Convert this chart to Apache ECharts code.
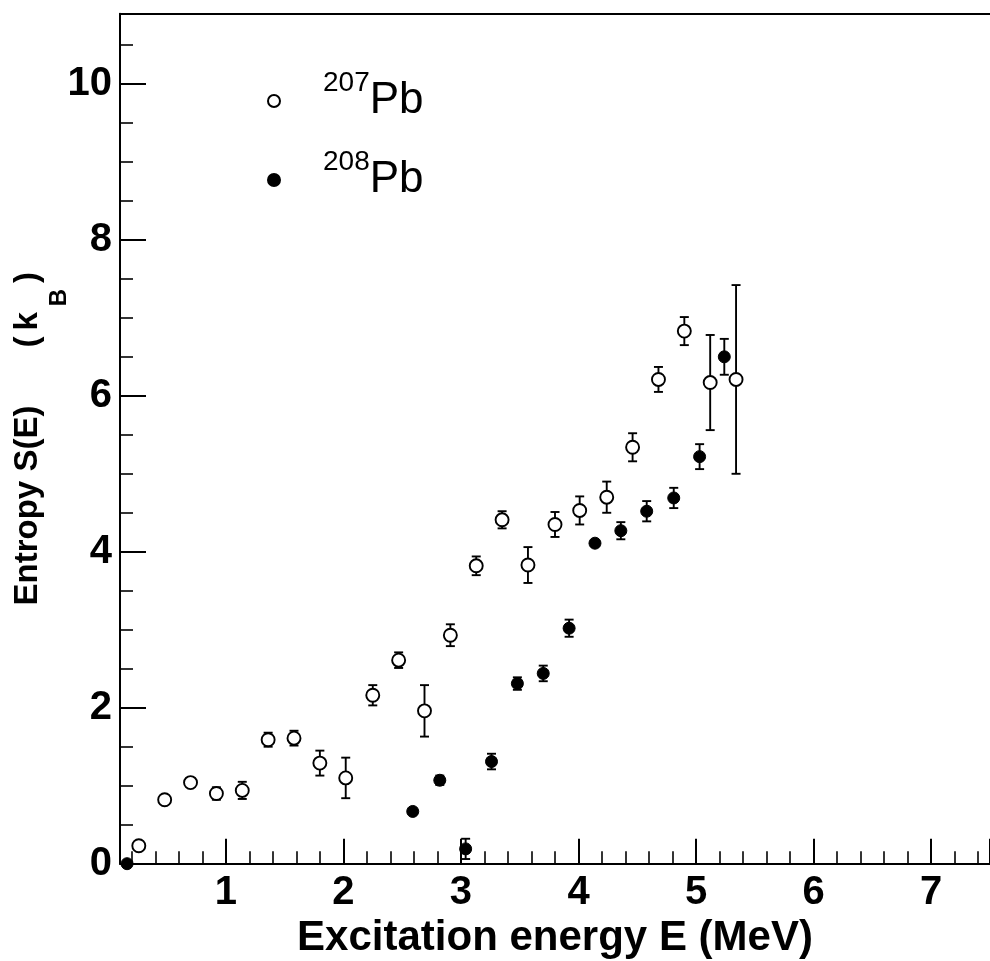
<!DOCTYPE html>
<html>
<head>
<meta charset="utf-8">
<script src="https://cdn.jsdelivr.net/npm/echarts@6/dist/echarts.min.js"></script>
<style>
html,body{margin:0;padding:0;background:#fff;}
#c{width:990px;height:961px;}
</style>
</head>
<body>
<div id="c"></div>
<script>
// ---- data ----
const E207 = [0.26, 0.48, 0.70, 0.92, 1.14, 1.36, 1.58, 1.80, 2.02, 2.25, 2.47, 2.69, 2.91, 3.13, 3.35, 3.57, 3.80, 4.01, 4.24, 4.46, 4.68, 4.90, 5.12, 5.34];
const S207 = [0.23, 0.82, 1.04, 0.90, 0.94, 1.59, 1.61, 1.29, 1.10, 2.16, 2.61, 1.96, 2.93, 3.82, 4.41, 3.83, 4.35, 4.53, 4.70, 5.34, 6.21, 6.83, 6.17, 6.21];
const dS207 = [0.03, 0.04, 0.05, 0.08, 0.11, 0.09, 0.095, 0.16, 0.26, 0.13, 0.10, 0.33, 0.14, 0.12, 0.11, 0.23, 0.16, 0.18, 0.20, 0.18, 0.16, 0.18, 0.61, 1.21];

const E208 = [0.16, 2.59, 2.82, 3.04, 3.26, 3.48, 3.70, 3.92, 4.14, 4.36, 4.58, 4.81, 5.03, 5.24];
const S208 = [0.00, 0.67, 1.07, 0.19, 1.31, 2.31, 2.44, 3.02, 4.11, 4.27, 4.52, 4.69, 5.22, 6.50];
const dS208 = [0.02, 0.03, 0.06, 0.13, 0.10, 0.08, 0.10, 0.11, 0.03, 0.11, 0.13, 0.13, 0.16, 0.23];

const seriesNames = ['207Pb', '208Pb'];
const xTickLabels = ['1', '2', '3', '4', '5', '6', '7'];
const yTickLabels = ['0', '2', '4', '6', '8', '10'];

// ---- chart ----
const FONT = 'Liberation Sans, Arial, Helvetica, sans-serif';
const d207 = E207.map((e, i) => [e, S207[i], dS207[i]]);
const d208 = E208.map((e, i) => [e, S208[i], dS208[i]]);

function errRender(params, api) {
  const x = api.value(0), y = api.value(1), e = api.value(2);
  const t = api.coord([x, y + e]);
  const b = api.coord([x, y - e]);
  const cap = 4.5;
  const st = { stroke: '#000', lineWidth: 1.9, fill: null };
  return {
    type: 'group',
    children: [
      { type: 'line', shape: { x1: t[0], y1: t[1], x2: b[0], y2: b[1] }, style: st },
      { type: 'line', shape: { x1: t[0] - cap, y1: t[1], x2: t[0] + cap, y2: t[1] }, style: st },
      { type: 'line', shape: { x1: b[0] - cap, y1: b[1], x2: b[0] + cap, y2: b[1] }, style: st }
    ]
  };
}

const chart = echarts.init(document.getElementById('c'), null, { renderer: 'canvas' });
chart.setOption({
  backgroundColor: '#fff',
  animation: false,
  textStyle: { fontFamily: FONT },
  grid: { left: 120, right: 0, top: 13.7, bottom: 97.3, containLabel: false, outerBoundsMode: 'none' },
  legend: {
    orient: 'vertical',
    left: 267,
    top: 69,
    padding: 0,
    itemGap: 25,
    itemWidth: 12,
    itemHeight: 12,
    selectedMode: false,
    data: seriesNames.map(n => ({ name: n, icon: 'circle' })),
    formatter: n => '{sup|' + n.slice(0, 3) + '}{main|' + n.slice(3) + '}',
    textStyle: {
      color: '#000',
      rich: {
        sup: { fontSize: 28, lineHeight: 28, verticalAlign: 'top', padding: [0, 0, 0, 38], fontFamily: FONT, color: '#000' },
        main: { fontSize: 44, lineHeight: 64, verticalAlign: 'middle', fontFamily: FONT, color: '#000' }
      }
    }
  },
  xAxis: [{
    type: 'value',
    min: 0.1,
    max: 7.5,
    splitNumber: 7,
    position: 'bottom',
    axisLine: { show: true, onZero: false, lineStyle: { color: '#000', width: 2 } },
    axisTick: { show: true, inside: true, length: 25, lineStyle: { color: '#000', width: 2 } },
    minorTick: { show: true, splitNumber: 5, length: 12.5, lineStyle: { color: '#000', width: 1.6 } },
    splitLine: { show: false },
    axisLabel: {
      show: true, margin: 9, color: '#000', fontSize: 40, fontWeight: 'bold', fontFamily: FONT,
      formatter: v => { const s = String(Math.round(v * 1000) / 1000); return xTickLabels.includes(s) ? s : ''; }
    },
    name: 'Excitation energy E (MeV)',
    nameLocation: 'middle',
    nameGap: 50,
    nameTextStyle: { color: '#000', fontSize: 42, fontWeight: 'bold', fontFamily: FONT }
  }, {
    type: 'value',
    min: 0.1,
    max: 7.5,
    position: 'top',
    axisLine: { show: true, onZero: false, lineStyle: { color: '#000', width: 2 } },
    axisTick: { show: false },
    axisLabel: { show: false },
    splitLine: { show: false }
  }],
  yAxis: {
    type: 'value',
    min: 0,
    max: 10.9,
    interval: 2,
    axisLine: { show: true, onZero: false, lineStyle: { color: '#000', width: 2 } },
    axisTick: { show: true, inside: true, length: 26, lineStyle: { color: '#000', width: 2 } },
    minorTick: { show: true, splitNumber: 4, length: 13, lineStyle: { color: '#000', width: 1.6 } },
    splitLine: { show: false },
    axisLabel: {
      show: true, margin: 8, color: '#000', fontSize: 40, fontWeight: 'bold', fontFamily: FONT,
      formatter: v => { const s = String(Math.round(v * 1000) / 1000); return yTickLabels.includes(s) ? s : ''; }
    },
    name: '{m|Entropy S(E)}{g| }{m|(}{k|k}{sub|B}{m|)}',
    nameLocation: 'middle',
    nameGap: 76,
    nameMoveOverlap: false,
    nameTextStyle: {
      color: '#000',
      rich: {
        m: { fontSize: 33, lineHeight: 33, fontWeight: 'bold', verticalAlign: 'top', fontFamily: FONT, color: '#000' },
        k: { fontSize: 33, lineHeight: 33, fontWeight: 'bold', verticalAlign: 'top', padding: [0, 0, 0, 6], fontFamily: FONT, color: '#000' },
        g: { fontSize: 33, lineHeight: 33, width: 58, verticalAlign: 'top', fontFamily: FONT },
        sub: { fontSize: 24, lineHeight: 24, fontWeight: 'bold', verticalAlign: 'top', padding: [36, 6, 0, 6], fontFamily: FONT, color: '#000' }
      }
    }
  },
  series: [
    {
      name: '207Pb-err', type: 'custom', renderItem: errRender, data: d207,
      encode: { x: 0, y: 1 }, z: 2, silent: true
    },
    {
      name: '208Pb-err', type: 'custom', renderItem: errRender, data: d208,
      encode: { x: 0, y: 1 }, z: 2, silent: true
    },
    {
      name: seriesNames[0], type: 'scatter', data: d207, symbol: 'circle', symbolSize: 13, z: 5,
      itemStyle: { color: '#fff', borderColor: '#000', borderWidth: 1.9, opacity: 1 }
    },
    {
      name: seriesNames[1], type: 'scatter', data: d208, symbol: 'circle', symbolSize: 12, z: 5,
      itemStyle: { color: '#000', borderColor: '#000', borderWidth: 1, opacity: 1 }
    }
  ]
});
</script>
</body>
</html>
